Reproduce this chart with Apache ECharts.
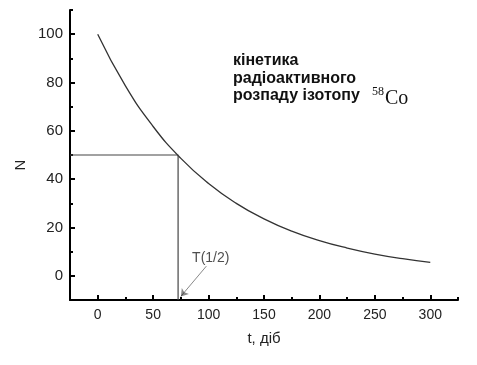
<!DOCTYPE html>
<html>
<head>
<meta charset="utf-8">
<script src="https://cdn.jsdelivr.net/npm/echarts@6/dist/echarts.min.js"></script>
<style>
html,body{margin:0;padding:0;background:#fff;}
#c{width:477px;height:365px;}
</style>
</head>
<body>
<div id="c"></div>
<script>
// ---- data ----
var tDays = [0, 25, 50, 75, 100, 125, 150, 175, 200, 225, 250, 275, 300];
var nValues = [100, 78.6, 61.8, 48.6, 38.2, 30.0, 23.6, 18.5, 14.6, 11.5, 9.0, 7.1, 5.6];
var halfLifeT = 72.5;
var halfN = 50;
var xMajorTicks = [0, 50, 100, 150, 200, 250, 300];
var xMinorTicks = [-25, 25, 75, 125, 175, 225, 275, 325];
var yMajorTicks = [0, 20, 40, 60, 80, 100];
var yMinorTicks = [-10, 10, 30, 50, 70, 90, 110];
var arrowFrom = [98, 4];
var arrowTo = [75, -8.5];
var arrowLabelAt = [102, 7.4];
var arrowLabel = 'T(1/2)';
var titleLines = ['кінетика', 'радіоактивного', 'розпаду ізотопу'];
var isotopeMass = '58';
var isotopeSymbol = 'Co';
var xName = 't, діб';
var yName = 'N';

var FONT = '"Liberation Sans", Arial, sans-serif';
var SERIF = '"Liberation Serif", "Times New Roman", serif';
var chart = echarts.init(document.getElementById('c'), null, {renderer: 'canvas'});

var curve = tDays.map(function (t, i) { return [t, nValues[i]]; });
var X_MIN = -25, X_MAX = 325, Y_MIN = -10, Y_MAX = 110;

var option = {
  animation: false,
  backgroundColor: '#fff',
  grid: {left: 70, right: 19, top: 10, bottom: 65, containLabel: false},
  xAxis: [{
    type: 'value', min: X_MIN, max: X_MAX, position: 'bottom',
    axisLine: {show: true, onZero: false, lineStyle: {color: '#000', width: 2}},
    axisTick: {show: true, inside: true, length: 5, customValues: xMajorTicks, lineStyle: {color: '#000', width: 2}},
    axisLabel: {show: true, customValues: xMajorTicks, fontFamily: FONT, fontSize: 14, color: '#222', margin: 8},
    splitLine: {show: false},
    name: xName, nameLocation: 'middle', nameGap: 31,
    nameTextStyle: {fontFamily: FONT, fontSize: 15, color: '#222'}
  }, {
    type: 'value', min: X_MIN, max: X_MAX, position: 'bottom', gridIndex: 0,
    axisLine: {show: false, onZero: false},
    axisTick: {show: true, inside: true, length: 3, customValues: xMinorTicks, lineStyle: {color: '#000', width: 2}},
    axisLabel: {show: false},
    splitLine: {show: false}
  }],
  yAxis: [{
    type: 'value', min: Y_MIN, max: Y_MAX, position: 'left',
    axisLine: {show: true, onZero: false, lineStyle: {color: '#000', width: 2}},
    axisTick: {show: true, inside: true, length: 5, customValues: yMajorTicks, lineStyle: {color: '#000', width: 2}},
    axisLabel: {show: true, customValues: yMajorTicks, fontFamily: FONT, fontSize: 15, color: '#222', margin: 7},
    splitLine: {show: false}
  }, {
    type: 'value', min: Y_MIN, max: Y_MAX, position: 'left', gridIndex: 0,
    axisLine: {show: false, onZero: false},
    axisTick: {show: true, inside: true, length: 3, customValues: yMinorTicks, lineStyle: {color: '#000', width: 2}},
    axisLabel: {show: false},
    splitLine: {show: false}
  }],
  series: [{
    type: 'line', name: 'decay', data: curve, smooth: true, showSymbol: false,
    xAxisIndex: 0, yAxisIndex: 0,
    lineStyle: {color: '#333', width: 1.3}
  }, {
    type: 'line', name: 'half', showSymbol: false,
    data: [[X_MIN, halfN], [halfLifeT, halfN], [halfLifeT, Y_MIN]],
    lineStyle: {color: '#444', width: 1.2}
  }, {
    type: 'lines', coordinateSystem: 'cartesian2d',
    data: [{coords: [arrowFrom, arrowTo]}],
    symbol: ['none', 'arrow'], symbolSize: 7,
    lineStyle: {color: '#111', width: 1}
  }, {
    type: 'scatter', symbolSize: 0,
    data: [arrowLabelAt],
    label: {show: true, position: 'inside', formatter: arrowLabel, fontFamily: FONT, fontSize: 14, color: '#222'}
  }],
  graphic: [
    {type: 'text', x: 233, y: 53, style: {text: titleLines[0], font: 'bold 16px ' + FONT, fill: '#111'}},
    {type: 'text', x: 233, y: 71, style: {text: titleLines[1], font: 'bold 16px ' + FONT, fill: '#111'}},
    {type: 'text', x: 233, y: 88, style: {text: titleLines[2], font: 'bold 16px ' + FONT, fill: '#111'}},
    {type: 'text', x: 372, y: 86, style: {text: isotopeMass, font: '12px ' + SERIF, fill: '#111'}},
    {type: 'text', x: 385, y: 89, style: {text: isotopeSymbol, font: '20px ' + SERIF, fill: '#111'}},
    {type: 'text', x: 21, y: 165, rotation: Math.PI / 2,
      style: {text: yName, font: '15px ' + FONT, fill: '#222', textAlign: 'center', textVerticalAlign: 'middle'}}
  ]
};
chart.setOption(option);
</script>
</body>
</html>
